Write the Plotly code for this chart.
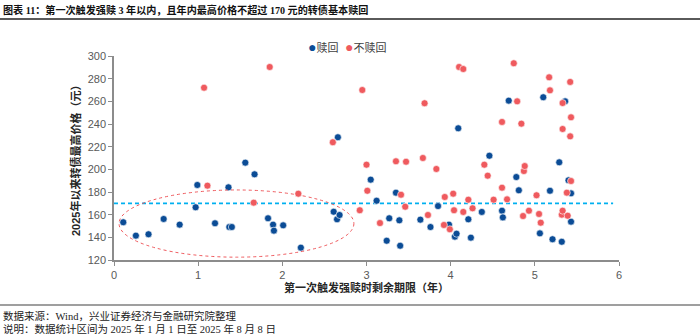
import plotly.graph_objects as go

# ---- data ----
redeem_x = [0.11, 0.26, 0.41, 0.59, 0.78, 0.97, 0.99, 1.20, 1.36, 1.37, 1.40, 1.56, 1.67, 1.83, 1.89, 1.90, 2.01, 2.22,
            2.61, 2.65, 2.66, 2.68, 3.05, 3.12, 3.24, 3.27, 3.35, 3.39, 3.40, 3.64, 3.76, 3.85, 3.98, 4.05, 4.07, 4.09,
            4.21, 4.24, 4.37, 4.46, 4.61, 4.62, 4.69, 4.78, 4.81, 5.06, 5.10, 5.18, 5.21, 5.29, 5.32, 5.36, 5.40, 5.43, 5.43]
redeem_y = [153.3, 141.5, 142.7, 156.2, 151.2, 166.5, 186.2, 152.4, 184.1, 149.1, 149.1, 205.9, 195.6, 156.8, 151.2, 145.9, 150.6, 130.9,
            162.6, 155.9, 228.3, 159.7, 190.9, 172.3, 137.0, 156.8, 179.4, 155.0, 132.6, 155.6, 149.1, 167.6, 151.2, 140.6, 143.2, 236.2,
            155.9, 139.7, 162.4, 212.0, 163.5, 157.6, 260.6, 193.2, 181.5, 143.5, 263.6, 181.1, 138.3, 206.2, 136.1, 260.0, 190.3, 178.8, 153.8]

noredeem_x = [1.07, 1.11, 1.66, 1.85, 2.19, 2.60, 2.92, 2.95, 3.00, 3.01, 3.16, 3.35, 3.41, 3.46, 3.47, 3.67, 3.69, 3.73, 3.83,
              3.92, 3.93, 3.99, 4.03, 4.04, 4.10, 4.15, 4.15, 4.21, 4.26, 4.40, 4.44, 4.51, 4.61, 4.61, 4.67, 4.75, 4.79, 4.84,
              4.86, 4.87, 4.88, 4.93, 5.02, 5.05, 5.07, 5.17, 5.18, 5.32, 5.33, 5.33, 5.33, 5.38, 5.39, 5.42, 5.42, 5.43, 5.43]
noredeem_y = [272.0, 185.6, 170.6, 290.3, 178.5, 223.9, 163.9, 270.0, 204.1, 181.1, 152.6, 207.1, 177.6, 167.0, 206.7, 210.0, 258.3, 159.7, 200.3,
              150.9, 175.6, 147.1, 178.5, 163.9, 290.3, 288.5, 162.4, 173.2, 165.6, 204.1, 194.4, 173.2, 241.8, 183.8, 173.5, 293.6, 260.0, 240.3,
              158.8, 198.5, 202.9, 163.5, 177.1, 160.6, 152.9, 281.2, 269.7, 160.0, 258.5, 235.6, 163.5, 179.4, 159.1, 277.1, 229.1, 245.9, 189.7]

x_ticks = [0, 1, 2, 3, 4, 5, 6]
y_ticks = [120, 140, 160, 180, 200, 220, 240, 260, 280, 300]
threshold = 170
threshold_end = 5.93
ellipse_x = [0.06, 2.85]
ellipse_y = [122.5, 181.8]

series_names = ["赎回", "不赎回"]
title_text = "图表 11：第一次触发强赎 3 年以内，且年内最高价格不超过 170 元的转债基本赎回"
x_title = "第一次触发强赎时剩余期限（年）"
y_title = "2025年以来转债最高价格（元）"
source_text = "数据来源：Wind，兴业证券经济与金融研究院整理"
note_text = "说明：数据统计区间为 2025 年 1 月 1 日至 2025 年 8 月 8 日"

BLUE = "#0B4C96"
RED = "#EF5A5E"
CYAN = "#00B0F0"
AXIS = "#8C8C8C"
TICK = "#595959"
SANS = "Liberation Sans, Arial, Noto Sans CJK SC, sans-serif"
SERIF = "Liberation Serif, Times New Roman, Noto Sans CJK SC, serif"

# plot area in pixels
W, H = 700, 336
L, R, T, B = 114, 81, 56, 76
pw, ph = W - L - R, H - T - B

def px_x(p):
    return (p - L) / pw

def px_y(p):
    return (H - B - p) / ph

fig = go.Figure()
fig.add_trace(go.Scatter(x=redeem_x, y=redeem_y, mode="markers", name=series_names[0],
                         marker=dict(color=BLUE, size=7, line=dict(width=0.6, color="white")),
                         showlegend=False, cliponaxis=False))
fig.add_trace(go.Scatter(x=noredeem_x, y=noredeem_y, mode="markers", name=series_names[1],
                         marker=dict(color=RED, size=7, line=dict(width=0.6, color="white")),
                         showlegend=False, cliponaxis=False))

# threshold dashed line and ellipse
fig.add_shape(type="line", xref="x", yref="y", x0=0, x1=threshold_end, y0=threshold, y1=threshold,
              line=dict(color=CYAN, width=1.6, dash="4px,3px"), layer="below")
fig.add_shape(type="circle", xref="x", yref="y", x0=ellipse_x[0], x1=ellipse_x[1],
              y0=ellipse_y[0], y1=ellipse_y[1], line=dict(color=RED, width=1, dash="dot"))

# separator lines (paper coords)
fig.add_shape(type="line", xref="paper", yref="paper", x0=px_x(0), x1=px_x(W), y0=px_y(19), y1=px_y(19),
              line=dict(color="#5A5A5A", width=2))
fig.add_shape(type="line", xref="paper", yref="paper", x0=px_x(0), x1=px_x(W), y0=px_y(305), y1=px_y(305),
              line=dict(color="#7F7F7F", width=1.5))

ann = []
ann.append(dict(text="<b>" + title_text + "</b>", x=px_x(1), y=px_y(10), xref="paper", yref="paper",
                xanchor="left", yanchor="middle", showarrow=False,
                font=dict(family=SERIF, size=10.1, color="#111111")))
ann.append(dict(text=source_text, x=px_x(1), y=px_y(316), xref="paper", yref="paper",
                xanchor="left", yanchor="middle", showarrow=False,
                font=dict(family=SERIF, size=10.5, color="#222222")))
ann.append(dict(text=note_text, x=px_x(1), y=px_y(329), xref="paper", yref="paper",
                xanchor="left", yanchor="middle", showarrow=False,
                font=dict(family=SERIF, size=10.5, color="#222222")))
ann.append(dict(text="<b>" + x_title + "</b>", x=0.5, y=px_y(287), xref="paper", yref="paper",
                xanchor="center", yanchor="middle", showarrow=False,
                font=dict(family=SANS, size=11, color="#262626")))
ann.append(dict(text="<b>" + y_title + "</b>", x=px_x(75), y=0.5, xref="paper", yref="paper",
                xanchor="center", yanchor="middle", showarrow=False, textangle=-90,
                font=dict(family=SANS, size=11, color="#262626")))
# legend
ann.append(dict(text="<span style='color:%s;font-size:14px'>●</span>%s" % (BLUE, series_names[0]), x=px_x(306), y=px_y(47),
                xref="paper", yref="paper", xanchor="left", yanchor="middle", showarrow=False,
                font=dict(family=SANS, size=11, color="#404040")))
ann.append(dict(text="<span style='color:%s;font-size:14px'>●</span>%s" % (RED, series_names[1]), x=px_x(343), y=px_y(47),
                xref="paper", yref="paper", xanchor="left", yanchor="middle", showarrow=False,
                font=dict(family=SANS, size=11, color="#404040")))

fig.update_layout(
    width=W, height=H,
    margin=dict(l=L, r=R, t=T, b=B, pad=0),
    paper_bgcolor="white", plot_bgcolor="white",
    annotations=ann,
    xaxis=dict(range=[0, 6], tickvals=x_ticks, showgrid=False, zeroline=False,
               showline=True, linecolor=AXIS, linewidth=1.5, ticks="outside", ticklen=4,
               tickcolor=AXIS, tickwidth=1, tickfont=dict(family=SANS, size=11, color=TICK)),
    yaxis=dict(range=[120, 300], tickvals=y_ticks, showgrid=False, zeroline=False,
               showline=True, linecolor=AXIS, linewidth=1.5, ticks="outside", ticklen=4,
               tickcolor=AXIS, tickwidth=1, tickfont=dict(family=SANS, size=11, color=TICK)),
)

fig.write_html("out.html", config=dict(displayModeBar=False))
